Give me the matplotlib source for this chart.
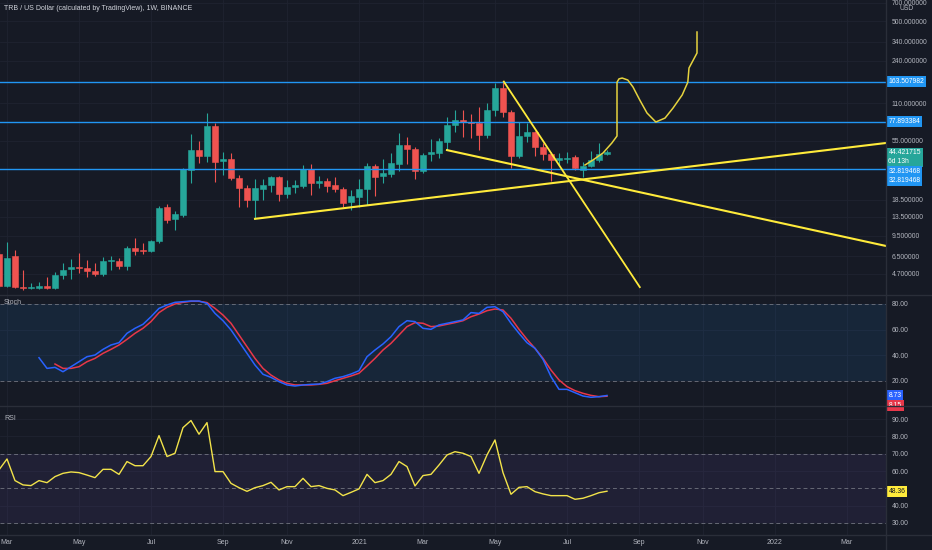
import numpy as np
import pandas as pd
import matplotlib
matplotlib.use('Agg')
import matplotlib.pyplot as plt
import matplotlib.transforms as mtransforms
from matplotlib.lines import Line2D
from matplotlib.ticker import NullLocator, NullFormatter

plt.rcParams['font.family'] = ['Liberation Sans', 'DejaVu Sans']

# TRB / USD weekly candles, first bar = week of 2020-02-24
opens = [6.8, 3.8, 6.6, 3.7, 3.6, 3.62, 3.76, 3.62, 4.62, 5.15, 5.34, 5.25, 5.0, 4.7, 5.97, 5.97,
         5.44, 7.59, 7.32, 7.18, 8.64, 16.2, 12.97, 14.0, 32.0, 46.2, 41.4, 72.0, 37.8, 39.2, 27.6,
         22.9, 18.4, 22.5, 24.2, 28.1, 20.5, 23.4, 23.8, 32.6, 25.2, 26.1, 24.2, 22.5, 17.7, 19.4,
         22.5, 34.5, 28.6, 29.7, 35.8, 50.7, 47.2, 31.4, 42.9, 43.8, 53.6, 73.4, 80.5, 77.6, 76.1,
         61.0, 96.8, 145.0, 93.3, 41.4, 59.9, 64.5, 49.0, 42.9, 38.5, 39.2, 40.6, 32.0, 34.5, 38.5, 42.9]
highs = [7.3, 8.5, 7.3, 5.1, 4.0, 4.04, 4.45, 4.88, 5.75, 6.19, 6.92, 6.08, 5.75, 6.43, 6.55, 6.31,
         7.88, 9.14, 8.33, 8.8, 16.5, 17.1, 15.0, 33.2, 62.2, 54.6, 91.6, 76.1, 44.6, 43.8, 29.2,
         24.2, 27.1, 27.1, 28.5, 28.5, 26.6, 26.6, 35.1, 35.8, 28.6, 27.6, 28.1, 23.4, 22.1, 27.1,
         36.4, 35.8, 39.2, 43.8, 63.3, 58.8, 49.0, 43.8, 56.7, 57.7, 85.0, 96.8, 96.8, 89.9, 102.2,
         110.0, 159.0, 161.6, 96.8, 77.6, 76.1, 65.7, 52.6, 44.6, 43.8, 44.6, 42.2, 37.1, 45.4, 52.6, 46.2]
lows = [3.6, 3.7, 3.6, 3.5, 3.55, 3.55, 3.55, 3.55, 4.29, 4.29, 4.79, 4.45, 4.53, 4.53, 5.06, 5.15,
        5.06, 6.67, 6.79, 7.0, 8.4, 12.0, 10.6, 13.5, 25.2, 36.4, 37.1, 25.6, 29.2, 26.6, 16.2,
        16.2, 13.0, 18.4, 21.3, 18.05, 19.1, 20.9, 23.0, 20.1, 22.9, 21.3, 21.3, 16.2, 15.3, 16.2,
        16.8, 19.8, 25.2, 28.1, 31.4, 35.8, 27.1, 30.5, 37.8, 39.9, 46.2, 64.5, 58.8, 57.7, 46.2,
        57.7, 86.6, 85.0, 33.2, 39.9, 53.6, 41.4, 38.5, 26.1, 35.1, 36.4, 32.0, 28.1, 33.8, 37.1, 42.2]
closes = [3.8, 6.3, 3.7, 3.6, 3.7, 3.76, 3.62, 4.62, 5.06, 5.34, 5.25, 4.97, 4.7, 5.97, 6.08, 5.44,
          7.59, 7.18, 7.18, 8.64, 15.9, 12.7, 14.2, 32.6, 46.2, 41.4, 72.0, 37.1, 39.2, 27.6, 22.9,
          18.4, 22.9, 24.2, 28.1, 20.5, 23.4, 24.2, 32.6, 25.2, 26.1, 23.8, 22.5, 17.4, 19.8, 22.5,
          34.5, 28.1, 30.3, 36.4, 50.7, 47.2, 31.4, 42.2, 44.6, 54.6, 73.4, 80.5, 77.6, 76.1, 61.0,
          96.8, 145.0, 93.3, 41.4, 59.9, 64.5, 49.0, 42.9, 38.5, 39.9, 39.9, 33.2, 34.5, 38.5, 42.9, 44.42]

# Stoch %K from week 4, %D from week 6; RSI from week -1 (week 0 = 2020-03-02)
stoch_k = [38.1, 29.8, 30.6, 27.2, 31.1, 35.0, 38.9, 40.2, 44.6, 48.0,
           49.8, 57.1, 61.0, 64.1, 70.0, 76.5, 79.1, 81.2, 81.7, 82.2,
           82.2, 80.4, 72.6, 66.9, 59.7, 50.6, 41.5, 32.4, 25.2, 22.8,
           19.5, 16.9, 16.1, 16.9, 17.4, 17.6, 19.5, 22.1, 23.4, 25.4,
           28.0, 38.9, 44.1, 48.8, 54.5, 62.3, 66.9, 66.2, 61.0, 60.2,
           63.6, 64.9, 66.2, 67.5, 73.2, 72.6, 77.3, 77.8, 73.9, 64.9,
           57.1, 49.8, 45.4, 36.8, 23.4, 13.5, 13.5, 10.9, 8.3, 7.3, 7.8, 8.73]
stoch_d = [33.2, 29.8, 29.8, 31.1, 35.0, 37.6, 41.5, 44.6, 48.0, 52.4,
           57.1, 61.0, 66.2, 73.2, 77.3, 79.9, 81.2, 82.0, 82.0, 81.0,
           76.5, 71.3, 64.9, 55.8, 46.7, 37.6, 29.8, 24.6, 20.8, 18.2,
           16.9, 16.9, 16.9, 17.4, 18.2, 20.2, 22.1, 23.9, 26.0, 31.7,
           37.6, 44.1, 49.3, 55.8, 62.3, 65.4, 64.9, 62.3, 62.8, 64.1,
           65.4, 66.9, 70.0, 72.1, 74.7, 76.0, 75.2, 68.8, 60.2, 52.4,
           45.4, 37.6, 28.5, 20.8, 15.6, 12.5, 10.4, 8.8, 7.8, 8.15]
rsi = [60.7, 67.0, 54.5, 52.0, 51.6, 54.5, 53.3, 56.8, 58.7, 59.5,
       59.1, 57.7, 56.2, 61.0, 61.0, 58.1, 65.5, 63.1, 63.1, 68.4,
       80.5, 68.4, 70.3, 85.1, 89.2, 81.3, 88.0, 59.7, 59.7, 52.9,
       50.4, 48.3, 50.4, 51.6, 53.5, 49.1, 51.0, 51.0, 55.8, 51.0,
       51.6, 50.0, 49.1, 45.8, 47.7, 49.7, 58.1, 53.3, 54.5, 58.1,
       65.5, 62.6, 51.4, 57.4, 58.1, 63.5, 69.3, 71.2, 70.3, 68.4,
       58.7, 69.3, 78.0, 59.1, 46.6, 50.6, 51.0, 48.1, 46.8, 45.8,
       45.8, 45.8, 43.7, 44.3, 45.8, 47.5, 48.36]

# horizontal levels drawn by the author
levels = [163.507982, 77.893384, 32.819468]
last_price = 44.421715

# trend lines: (week, price) anchors
rise_w, rise_p = [31, 110], [13.0, 52.8]
fall_w, fall_p = [55, 110], [46.2, 7.85]
steep_w, steep_p = [62.1, 79.1], [163.5, 3.69]
# freehand projection
path_w = [72.25, 73.25, 74.5, 75.6, 76.25, 76.25, 76.5, 76.9, 77.6, 78.25, 79.1, 80.0,
          81.1, 82.25, 83.25, 84.4, 85.1, 85.25, 86.25, 86.25]
path_p = [35.1, 38.5, 43.8, 52.6, 59.9, 161.6, 172.0, 174.6, 168.3, 148.0, 116.3, 91.6,
          77.6, 83.4, 100.3, 127.8, 161.6, 210.0, 277.0, 408.0]

price_ticks = [700, 500, 340, 240, 110, 55, 18.5, 13.5, 9.5, 6.5, 4.7]
tick_months = ['2020-03', '2020-05', '2020-07', '2020-09', '2020-11', '2021-01', '2021-03',
               '2021-05', '2021-07', '2021-09', '2021-11', '2022-01', '2022-03']
tick_names = ['Mar', 'May', 'Jul', 'Sep', 'Nov', '2021', 'Mar', 'May', 'Jul', 'Sep', 'Nov', '2022', 'Mar']

BG = '#161a25'
GRID = '#1f2330'
SEP = '#2a2e39'
TXT = '#b2b5be'
UP = '#26a69a'
DOWN = '#ef5350'
BLUE = '#2196f3'
YEL = '#ffeb3b'

W, H = 932, 550
fig = plt.figure(figsize=(W / 100, H / 100), dpi=100, facecolor=BG)


def box(x0, y0, x1, y1):
    return [x0 / W, 1 - y1 / H, (x1 - x0) / W, (y1 - y0) / H]


ax_p = fig.add_axes(box(0, 0, 886, 295))
ax_s = fig.add_axes(box(0, 295, 886, 406), sharex=ax_p)
ax_r = fig.add_axes(box(0, 406, 886, 535), sharex=ax_p)

base = pd.Timestamp('2020-03-02')
tick_pos = []
for m in tick_months:
    t = pd.Timestamp(m + '-01')
    t = t + pd.Timedelta(days=(7 - t.weekday()) % 7)
    tick_pos.append((t - base).days / 7)

for ax in (ax_p, ax_s, ax_r):
    ax.set_facecolor(BG)
    for s in ax.spines.values():
        s.set_visible(False)
    ax.yaxis.tick_right()
    ax.tick_params(axis='y', length=0, pad=4, labelsize=4.9, labelcolor=TXT)
    ax.tick_params(axis='x', length=0, pad=3, labelsize=5.0, labelcolor=TXT)
    ax.grid(True, color=GRID, lw=0.6)
    ax.set_axisbelow(True)
ax_p.set_xticks(tick_pos)
ax_r.set_xticklabels(tick_names)
ax_p.tick_params(labelbottom=False)
ax_s.tick_params(labelbottom=False)
ax_p.set_xlim(-0.875, 109.875)

# ---- price pane
wk = np.arange(-1, len(opens) - 1)
o, h, l, c = map(np.array, (opens, highs, lows, closes))
col = np.where(c >= o, UP, DOWN)
ax_p.set_yscale('log')
ax_p.vlines(wk, l, h, colors=col, lw=0.8, zorder=3)
ax_p.bar(wk, np.abs(c - o), bottom=np.minimum(o, c), width=0.68, color=col,
         edgecolor=col, linewidth=0.4, zorder=4)
for v in levels:
    ax_p.axhline(v, color=BLUE, lw=1.0, zorder=5)
ax_p.plot(rise_w, rise_p, color=YEL, lw=1.5, zorder=6)
ax_p.plot(fall_w, fall_p, color=YEL, lw=1.5, zorder=6)
ax_p.plot(steep_w, steep_p, color=YEL, lw=1.3, zorder=6)
ax_p.plot(path_w, path_p, color='#e6d33e', lw=1.1, zorder=6)
ax_p.set_ylim(3.19, 736.6)
ax_p.set_yticks(price_ticks)
ax_p.set_yticklabels([f'{v:.6f}' for v in price_ticks])
ax_p.yaxis.set_minor_locator(NullLocator())
ax_p.yaxis.set_minor_formatter(NullFormatter())
ax_p.text(4 / 886, 1 - 9 / 295, 'TRB / US Dollar (calculated by TradingView), 1W, BINANCE',
          transform=ax_p.transAxes, fontsize=5.0, color='#d1d4dc', va='center', ha='left')
ax_p.text(907 / 886, 1 - 9 / 295, 'USD', transform=ax_p.transAxes, fontsize=4.9,
          color=TXT, va='center', ha='center')

# ---- stochastic pane
ax_s.axhspan(20, 80, color=BLUE, alpha=0.1, lw=0)
for v in (80, 20):
    ax_s.axhline(v, color='#787b86', lw=0.7, ls=(0, (4, 3)), alpha=0.8)
ax_s.plot(np.arange(4, 4 + len(stoch_k)), stoch_k, color='#2962ff', lw=1.1, zorder=5)
ax_s.plot(np.arange(6, 6 + len(stoch_d)), stoch_d, color='#e8374a', lw=1.1, zorder=4)
ax_s.set_ylim(0.54, 86.9)
ax_s.set_yticks([80, 60, 40, 20])
ax_s.set_yticklabels(['80.00', '60.00', '40.00', '20.00'])
ax_s.text(4 / 886, 1 - 7 / 111, 'Stoch', transform=ax_s.transAxes, fontsize=5.0,
          color=TXT, va='center')

# ---- RSI pane
ax_r.axhspan(30, 70, color='#7e57c2', alpha=0.1, lw=0)
for v in (70, 50, 30):
    ax_r.axhline(v, color='#787b86', lw=0.7, ls=(0, (4, 3)), alpha=0.8)
ax_r.plot(np.arange(-1, -1 + len(rsi)), rsi, color='#f2e34a', lw=1.0, zorder=5)
ax_r.set_ylim(23.06, 97.6)
ax_r.set_yticks([90, 80, 70, 60, 40, 30])
ax_r.set_yticklabels(['90.00', '80.00', '70.00', '60.00', '40.00', '30.00'])
ax_r.text(4 / 886, 1 - 12 / 129, 'RSI', transform=ax_r.transAxes, fontsize=5.0,
          color=TXT, va='center')


def tag(ax, y, text, fc, tc='white', dy=0.0):
    tr = mtransforms.blended_transform_factory(ax.transAxes, ax.transData)
    tr = tr + mtransforms.ScaledTranslation(2.5 / 100, -dy / 100, fig.dpi_scale_trans)
    ax.text(1.0, y, text, transform=tr, ha='left', va='center', fontsize=4.9, color=tc,
            linespacing=1.3, clip_on=False, zorder=20,
            bbox=dict(boxstyle='square,pad=0.28', fc=fc, ec='none'))


tag(ax_p, levels[0], f'{levels[0]:.6f}', BLUE)
tag(ax_p, levels[1], f'{levels[1]:.6f}', BLUE)
tag(ax_p, last_price, f'{last_price:.6f}\n6d 13h', UP, dy=5)
tag(ax_p, levels[2], f'{levels[2]:.6f}', BLUE, dy=3)
tag(ax_p, levels[2], f'{levels[2]:.6f}', BLUE, dy=12)
tag(ax_s, stoch_k[-1], f'{stoch_k[-1]:.2f}', '#2962ff')
tag(ax_s, stoch_d[-1], f'{stoch_d[-1]:.2f}', '#e8374a', dy=9)
tag(ax_r, rsi[-1], f'{rsi[-1]:.2f}', YEL, tc='#131722')

# pane separators and price-scale border
for y in (295, 406, 535):
    fig.add_artist(Line2D([0, 1], [1 - y / H, 1 - y / H], transform=fig.transFigure,
                          color=SEP, lw=1))
fig.add_artist(Line2D([886 / W, 886 / W], [0, 1], transform=fig.transFigure, color=SEP, lw=1))

fig.savefig('out.png', dpi=100, facecolor=BG)
